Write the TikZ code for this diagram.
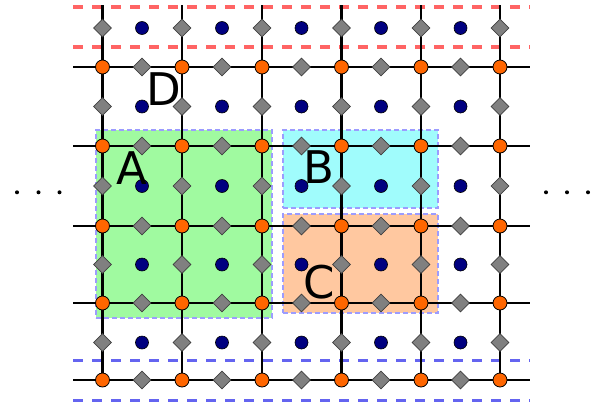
\documentclass[tikz,border=0pt]{standalone}
\usepackage{fontspec}
\usetikzlibrary{shapes.geometric}
\newfontfamily\lblfont{DejaVu Sans}
\definecolor{vtxorange}{HTML}{FF6600}
\definecolor{dotnavy}{HTML}{000080}
\definecolor{dmgray}{HTML}{808080}
\definecolor{regA}{HTML}{A0FAA0}
\definecolor{regB}{HTML}{A0FCFC}
\definecolor{regC}{HTML}{FFC8A0}
\definecolor{regborder}{HTML}{9C9CFF}
\definecolor{redline}{HTML}{FF6464}
\definecolor{blueline}{HTML}{6464F0}
\tikzset{
  gridline/.style={line width=2.3pt, black},
  vtx/.style={circle, fill=vtxorange, draw=black, line width=0.8pt, minimum size=14pt, inner sep=0pt},
  plaq/.style={circle, fill=dotnavy, draw=black, line width=0.6pt, minimum size=13pt, inner sep=0pt},
  edgemark/.style={diamond, fill=dmgray, draw=black!75, line width=0.8pt, minimum width=18pt, minimum height=18pt, inner sep=0pt},
  region/.style={draw=regborder, line width=1.6pt, dash pattern=on 5pt off 3pt},
  bdry/.style={line width=3.5pt, dash pattern=on 10pt off 9pt},
  lbl/.style={inner sep=0pt, font=\lblfont\fontsize{45}{54}\selectfont},
  ellipsisdot/.style={circle, fill=black, minimum size=4pt, inner sep=0pt}
}
\begin{document}
\begin{tikzpicture}[x=1pt,y=-1pt]
\useasboundingbox (0,0) rectangle (599,410);
% regions
\node[region, fill=regA, minimum width=176pt, minimum height=188pt, inner sep=0pt] (rA) at (184,224) {};
\node[region, fill=regB, minimum width=155pt, minimum height=78pt, inner sep=0pt] (rB) at (360.5,169) {};
\node[region, fill=regC, minimum width=155pt, minimum height=99pt, inner sep=0pt] (rC) at (360.5,263.5) {};
% boundary dashed lines
\coordinate (r1l) at (73,7);   \coordinate (r1r) at (530,7);
\coordinate (r2l) at (73,47);  \coordinate (r2r) at (530,47);
\coordinate (b1l) at (73,360.5); \coordinate (b1r) at (530,360.5);
\coordinate (b2l) at (73,400.5); \coordinate (b2r) at (530,400.5);
\draw[bdry, redline] (r1l) -- (r1r);
\draw[bdry, redline] (r2l) -- (r2r);
\draw[bdry, blueline] (b1l) -- (b1r);
\draw[bdry, blueline] (b2l) -- (b2r);
% grid lines
\foreach \ci/\cx in {0/102.5,1/182,2/262,3/341.5,4/421,5/500}{
  \coordinate (vt\ci) at (\cx,5);
  \coordinate (vb\ci) at (\cx,380);
  \draw[gridline] (vt\ci) -- (vb\ci);
}
\foreach \rj/\ry in {0/67,1/146,2/226,3/303,4/380}{
  \coordinate (hl\rj) at (73,\ry);
  \coordinate (hr\rj) at (530,\ry);
  \draw[gridline] (hl\rj) -- (hr\rj);
}
% diamonds on vertical edges
\foreach \ci/\cx in {0/102.5,1/182,2/262,3/341.5,4/421,5/500}{
  \foreach \rj/\ry in {0/28,1/106.5,2/186,3/264.5,4/342.5}{
    \node[edgemark] (dv-\ci-\rj) at (\cx,\ry) {};
  }
}
% diamonds on horizontal edges
\foreach \ci/\cx in {0/142,1/222,2/301.5,3/381,4/460.5}{
  \foreach \rj/\ry in {0/67,1/146,2/226,3/303,4/380}{
    \node[edgemark] (dh-\ci-\rj) at (\cx,\ry) {};
  }
}
% plaquette dots
\foreach \ci/\cx in {0/142,1/222,2/301.5,3/381,4/460.5}{
  \foreach \rj/\ry in {0/28,1/106.5,2/186,3/264.5,4/342.5}{
    \node[plaq] (p-\ci-\rj) at (\cx,\ry) {};
  }
}
% vertices
\foreach \ci/\cx in {0/102.5,1/182,2/262,3/341.5,4/421,5/500}{
  \foreach \rj/\ry in {0/67,1/146,2/226,3/303,4/380}{
    \node[vtx] (o-\ci-\rj) at (\cx,\ry) {};
  }
}
% labels
\node[lbl] (lA) at (132,168) {A};
\node[lbl] (lB) at (319,167) {B};
\node[lbl] (lC) at (319,282) {C};
\node[lbl] (lD) at (164,89) {D};
% ellipses
\node[ellipsisdot] (el1) at (17,192.3) {};
\node[ellipsisdot] (el2) at (38.5,192.3) {};
\node[ellipsisdot] (el3) at (59.5,192.3) {};
\node[ellipsisdot] (er1) at (546,192.3) {};
\node[ellipsisdot] (er2) at (567,192.3) {};
\node[ellipsisdot] (er3) at (588,192.3) {};
\end{tikzpicture}
\end{document}
